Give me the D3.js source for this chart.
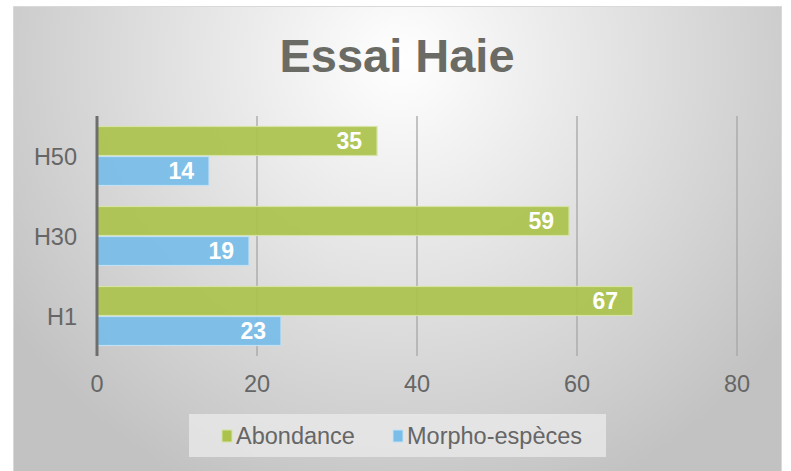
<!DOCTYPE html>
<html>
<head>
<meta charset="utf-8">
<script src="https://cdn.jsdelivr.net/npm/d3@7"></script>
<style>
body { margin:0; background:#fff; }
text { font-family: "Liberation Sans", Arial, sans-serif; }
</style>
</head>
<body>
<script>
// DATA
var categories = ["H50", "H30", "H1"];
var series_names = ["Abondance", "Morpho-espèces"];
var abondance = [35, 59, 67];
var morpho = [14, 19, 23];
var x_ticks = [0, 20, 40, 60, 80];

var colors = ["#abc34d", "#79bde8"];
var strokes = ["#d6e3a6", "#c3e1f4"];

var width = 791, height = 471;

var svg = d3.select("body").append("svg")
	.attr("width", width)
	.attr("height", height);

// background gradient
var defs = svg.append("defs");
var grad = defs.append("radialGradient")
	.attr("id", "bg")
	.attr("gradientUnits", "userSpaceOnUse")
	.attr("cx", 400).attr("cy", 60).attr("r", 470);
grad.append("stop").attr("offset", "0%").attr("stop-color", "#ffffff");
grad.append("stop").attr("offset", "100%").attr("stop-color", "#c2c2c2");

svg.append("rect")
	.attr("x", 13.5).attr("y", 6.5)
	.attr("width", 768).attr("height", 470)
	.attr("fill", "url(#bg)")
	.attr("stroke", "#d9d9d9")
	.attr("stroke-width", 1);

// title
svg.append("text")
	.attr("x", 397).attr("y", 72)
	.attr("text-anchor", "middle")
	.attr("font-size", 47)
	.attr("font-weight", "bold")
	.attr("fill", "#6b6b66")
	.text("Essai Haie");

// scales
var x = d3.scaleLinear().domain([0, 80]).range([97, 737]);
var y = d3.scaleBand().domain(categories).range([116, 356]).paddingInner(0.25).paddingOuter(0.125);
var y_inner = d3.scaleBand().domain(series_names).range([0, y.bandwidth()]);

// gridlines
svg.append("g").selectAll("line")
	.data(x_ticks.slice(1))
	.enter().append("line")
	.attr("x1", function(d){ return x(d); })
	.attr("x2", function(d){ return x(d); })
	.attr("y1", 116).attr("y2", 356)
	.attr("stroke", "#a6a6a6")
	.attr("stroke-width", 1.3);

// bars
var rows = categories.map(function(c, i){
	return [
		{"cat":c, "s":0, "v":abondance[i]},
		{"cat":c, "s":1, "v":morpho[i]}
	];
});
var flat = [].concat.apply([], rows);

svg.append("g").selectAll("rect")
	.data(flat)
	.enter().append("rect")
	.attr("x", x(0))
	.attr("y", function(d){ return y(d.cat) + y_inner(series_names[d.s]) + 0.5; })
	.attr("width", function(d){ return x(d.v) - x(0); })
	.attr("height", y_inner.bandwidth() - 1)
	.attr("fill", function(d){ return colors[d.s]; })
	.attr("fill-opacity", 0.93)
	.attr("stroke", function(d){ return strokes[d.s]; })
	.attr("stroke-width", 1.2);

// value labels
svg.append("g").selectAll("text")
	.data(flat)
	.enter().append("text")
	.attr("x", function(d){ return x(d.v) - 15; })
	.attr("y", function(d){ return y(d.cat) + y_inner(series_names[d.s]) + y_inner.bandwidth()/2 + 8; })
	.attr("text-anchor", "end")
	.attr("font-size", 23)
	.attr("font-weight", "bold")
	.attr("fill", "#ffffff")
	.text(function(d){ return d.v; });

// zero axis line
svg.append("line")
	.attr("x1", x(0)).attr("x2", x(0))
	.attr("y1", 116).attr("y2", 356)
	.attr("stroke", "#6e6e6e")
	.attr("stroke-width", 3);

// y labels
svg.append("g").selectAll("text")
	.data(categories)
	.enter().append("text")
	.attr("x", 77)
	.attr("y", function(d){ return y(d) + y.bandwidth()/2 + 8.5; })
	.attr("text-anchor", "end")
	.attr("font-size", 23.5)
	.attr("fill", "#666666")
	.text(function(d){ return d; });

// x tick labels
svg.append("g").selectAll("text")
	.data(x_ticks)
	.enter().append("text")
	.attr("x", function(d){ return x(d); })
	.attr("y", 392)
	.attr("text-anchor", "middle")
	.attr("font-size", 23.5)
	.attr("fill", "#666666")
	.text(function(d){ return d; });

// legend
var legend = svg.append("g");
legend.append("rect")
	.attr("x", 189).attr("y", 414)
	.attr("width", 417).attr("height", 43)
	.attr("fill", "#ebebeb")
	.attr("fill-opacity", 0.75);

var legend_x = [222, 393];
series_names.forEach(function(s, i){
	legend.append("rect")
		.attr("x", legend_x[i]).attr("y", 430)
		.attr("width", 10).attr("height", 12)
		.attr("fill", colors[i])
		.attr("stroke", strokes[i]);
	legend.append("text")
		.attr("x", legend_x[i] + 14).attr("y", 444)
		.attr("font-size", 23.5)
		.attr("fill", "#666666")
		.text(s);
});
</script>
</body>
</html>
